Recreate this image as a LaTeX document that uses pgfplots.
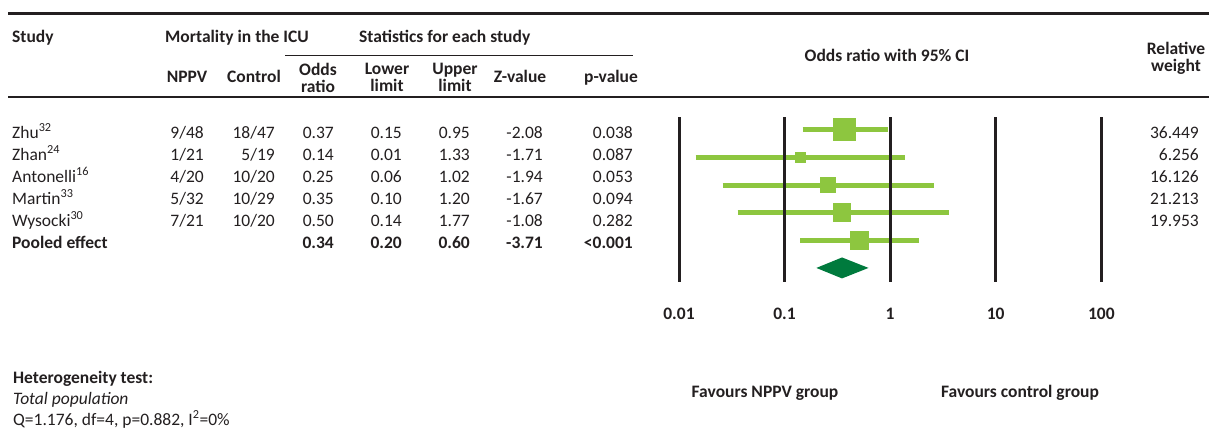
\documentclass[border=0pt]{standalone}
\usepackage{fontspec}
\setmainfont{Carlito}
\usepackage{pgfplots}
\pgfplotsset{compat=1.18}
\definecolor{ink}{RGB}{35,31,32}
\definecolor{barg}{RGB}{141,198,63}
\definecolor{dg}{RGB}{0,122,61}
\begin{document}
\fontsize{17.5}{17}\selectfont
\begin{tikzpicture}
\path[use as bounding box] (0,0) rectangle (1209pt,-439pt);
\begin{scope}[x=1pt,y=-1pt,every node/.style={inner sep=0pt,text=ink}]
% rules
\draw[ink,line width=3pt] (8,13) -- (1209,13);
\draw[ink,line width=2pt] (8,97) -- (1209,97);
\draw[ink,line width=1.3pt] (285,55.5) -- (633,55.5);
% header
\node[anchor=mid west,font=\bfseries] at (12,38) {Study};
\node[anchor=mid west,font=\bfseries] at (165,38) {Mortality in the ICU};
\node[anchor=mid west,font=\bfseries] at (359,38) {Statistics for each study};
\node[anchor=mid,font=\bfseries] at (187,78) {NPPV};
\node[anchor=mid,font=\bfseries] at (254,78) {Control};
\node[align=center,font=\bfseries] at (318,77.5) {Odds\\ratio};
\node[align=center,font=\bfseries] at (387,77.5) {Lower\\limit};
\node[align=center,font=\bfseries] at (455,77.5) {Upper\\limit};
\node[anchor=mid,font=\bfseries] at (520,78) {Z-value};
\node[anchor=mid,font=\bfseries] at (611,78) {p-value};
\node[anchor=mid,font=\bfseries] at (887,57) {Odds ratio with 95\% CI};
\node[align=center,font=\bfseries] at (1176,58) {Relative\\weight};
% rows
\foreach \yy/\nm/\ca/\cb/\oddr/\low/\upp/\zv/\pv/\wt in {
  134/Zhu\textsuperscript{32}/9\slash 48/18\slash 47/0.37/0.15/0.95/-2.08/0.038/36.449,
  156/Zhan\textsuperscript{24}/1\slash 21/5\slash 19/0.14/0.01/1.33/-1.71/0.087/6.256,
  178/Antonelli\textsuperscript{16}/4\slash 20/10\slash 20/0.25/0.06/1.02/-1.94/0.053/16.126,
  200/Martin\textsuperscript{33}/5\slash 32/10\slash 29/0.35/0.10/1.20/-1.67/0.094/21.213,
  222/Wysocki\textsuperscript{30}/7\slash 21/10\slash 20/0.50/0.14/1.77/-1.08/0.282/19.953}{
  \node[anchor=mid west] at (12,\yy) {\nm};
  \node[anchor=mid east] at (204,\yy) {\ca};
  \node[anchor=mid east] at (275,\yy) {\cb};
  \node[anchor=mid east] at (334,\yy) {\oddr};
  \node[anchor=mid east] at (402,\yy) {\low};
  \node[anchor=mid east] at (470,\yy) {\upp};
  \node[anchor=mid east] at (543,\yy) {\zv};
  \node[anchor=mid east] at (633,\yy) {\pv};
  \node[anchor=mid east] at (1199,\yy) {\wt};
}
\begin{scope}[every node/.append style={font=\bfseries}]
  \node[anchor=mid west] at (12,244) {Pooled effect};
  \node[anchor=mid east] at (334,244) {0.34};
  \node[anchor=mid east] at (402,244) {0.20};
  \node[anchor=mid east] at (470,244) {0.60};
  \node[anchor=mid east] at (543,244) {-3.71};
  \node[anchor=mid east] at (633,244) {<0.001};
\end{scope}
% footer
\node[anchor=mid west,font=\bfseries] at (13,379) {Heterogeneity test:};
\node[anchor=mid west,font=\itshape] at (13,400) {Total population};
\node[anchor=mid west] at (13,421) {Q=1.176, df=4, p=0.882, I\textsuperscript{2}=0\%};
\node[anchor=mid,font=\bfseries] at (765,393) {Favours NPPV group};
\node[anchor=mid,font=\bfseries] at (1020,393) {Favours control group};
\end{scope}

\begin{axis}[
  at={(679pt,-117pt)}, anchor=north west,
  scale only axis, width=422.3pt, height=165pt,
  xmode=log, xmin=0.01, xmax=100,
  ymin=0.53, ymax=6.51, y dir=reverse,
  clip=false,
  axis line style={draw=none},
  ytick=\empty,
  xtick={0.01,0.1,1,10,100},
  xticklabels={0.01,0.1,1,10,100},
  xminorticks=false,
  major tick length=0pt,
  xticklabel style={font=\bfseries, text=ink, yshift=-20pt},
]
% confidence intervals
\addplot[barg, line width=5pt] coordinates {(0.148,1) (0.945,1)};
\addplot[barg, line width=5pt] coordinates {(0.0144,2) (1.39,2)};
\addplot[barg, line width=5pt] coordinates {(0.0259,3) (2.6,3)};
\addplot[barg, line width=5pt] coordinates {(0.036,4) (3.57,4)};
\addplot[barg, line width=5pt] coordinates {(0.14,5) (1.86,5)};
% study weights as squares
\addplot[only marks, mark=square*, mark size=11pt, mark options={draw=barg, fill=barg, line width=1pt}] coordinates {(0.368,1)};
\addplot[only marks, mark=square*, mark size=5pt, mark options={draw=barg, fill=barg, line width=1pt}] coordinates {(0.14,2)};
\addplot[only marks, mark=square*, mark size=7.5pt, mark options={draw=barg, fill=barg, line width=1pt}] coordinates {(0.256,3)};
\addplot[only marks, mark=square*, mark size=8.8pt, mark options={draw=barg, fill=barg, line width=1pt}] coordinates {(0.35,4)};
\addplot[only marks, mark=square*, mark size=9pt, mark options={draw=barg, fill=barg, line width=1pt}] coordinates {(0.51,5)};
% pooled diamond
\addplot[fill=dg, draw=none] coordinates {(0.2,6) (0.35,5.62) (0.624,6) (0.35,6.38)} -- cycle;
% reference lines
\addplot[ink, line width=3pt] coordinates {(0.01,0.53) (0.01,6.51)};
\addplot[ink, line width=3pt] coordinates {(0.1,0.53) (0.1,6.51)};
\addplot[ink, line width=3pt] coordinates {(1,0.53) (1,6.51)};
\addplot[ink, line width=3pt] coordinates {(10,0.53) (10,6.51)};
\addplot[ink, line width=3pt] coordinates {(100,0.53) (100,6.51)};
\end{axis}
\end{tikzpicture}
\end{document}
